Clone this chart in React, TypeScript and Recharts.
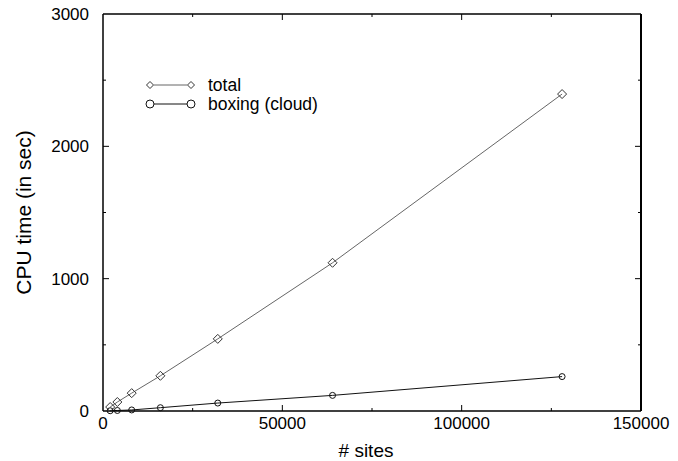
import React from 'react';
import {
  LineChart,
  Line,
  XAxis,
  YAxis,
  ReferenceLine,
  Legend,
  Label
} from 'recharts';

// values
const sites = [2000, 4000, 8000, 16000, 32000, 64000, 128000];
const totalTime = [30, 68, 135, 266, 545, 1120, 2395];
const boxingTime = [2, 4, 8, 25, 60, 118, 260];

const xTicks = [0, 25000, 50000, 75000, 100000, 125000, 150000];
const yTicks = [0, 500, 1000, 1500, 2000, 2500, 3000];

const data = sites.map((s, i) => ({
  sites: s,
  total: totalTime[i],
  boxing: boxingTime[i]
}));

const W = 678;
const H = 461;
const MARGIN = { top: 14, right: 37, left: 0, bottom: 0 };
const TOP_Y = MARGIN.top;
const RIGHT_X = W - MARGIN.right;
const FONT = '"Liberation Sans", Arial, Helvetica, sans-serif';

const X_MARGIN = 6;
const Y_MARGIN = 14;

const XTick = ({ x, y, payload }: any) => {
  const v = payload.value;
  const major = v % 50000 === 0;
  const len = major ? 6 : 3;
  const axisY = y - X_MARGIN;
  const edge = v === 0 || v === 150000;
  return (
    <g>
      {!edge && <line x1={x} x2={x} y1={axisY} y2={axisY - len} stroke="#000" />}
      {!edge && <line x1={x} x2={x} y1={TOP_Y} y2={TOP_Y + len} stroke="#000" />}
      {major && (
        <text x={x} y={y} dy="0.71em" textAnchor="middle" fontSize={17} fill="#000" fontFamily={FONT}>
          {v}
        </text>
      )}
    </g>
  );
};

const YTick = ({ x, y, payload }: any) => {
  const v = payload.value;
  const major = v % 1000 === 0;
  const len = major ? 6 : 3;
  const axisX = x + Y_MARGIN;
  const edge = v === 0 || v === 3000;
  return (
    <g>
      {!edge && <line x1={axisX} x2={axisX + len} y1={y} y2={y} stroke="#000" />}
      {!edge && <line x1={RIGHT_X} x2={RIGHT_X - len} y1={y} y2={y} stroke="#000" />}
      {major && (
        <text x={x} y={y} dy="0.355em" textAnchor="end" fontSize={17} fill="#000" fontFamily={FONT}>
          {v}
        </text>
      )}
    </g>
  );
};

const Diamond = ({ cx, cy, stroke, size = 4.5 }: any) => {
  if (cx == null || cy == null) return <g />;
  const d = size;
  return (
    <polygon
      points={`${cx},${cy - d} ${cx + d},${cy} ${cx},${cy + d} ${cx - d},${cy}`}
      fill="none"
      stroke={stroke}
      strokeWidth={1}
    />
  );
};

const Circle = ({ cx, cy, stroke, r = 5.5 }: any) => {
  if (cx == null || cy == null) return <g />;
  return <circle cx={cx} cy={cy} r={r} fill="none" stroke={stroke} strokeWidth={1} />;
};

const CustomLegend = () => (
  <svg width={200} height={44}>
    <line x1={14} x2={47} y1={11} y2={11} stroke="#666" />
    <Diamond cx={10} cy={11} stroke="#333" size={3.5} />
    <Diamond cx={51} cy={11} stroke="#333" size={3.5} />
    <text x={68} y={11} dy="0.355em" fontSize={17.5} fontFamily={FONT} fill="#000">total</text>
    <line x1={14} x2={47} y1={30} y2={30} stroke="#111" />
    <Circle cx={10} cy={30} stroke="#111" r={4} />
    <Circle cx={51} cy={30} stroke="#111" r={4} />
    <text x={68} y={30} dy="0.355em" fontSize={17.5} fontFamily={FONT} fill="#000">boxing (cloud)</text>
  </svg>
);

export default function App() {
  return (
    <div style={{ position: 'absolute', left: 0, top: 0, width: W, height: H, background: '#fff' }}>
      <LineChart width={W} height={H} data={data} margin={MARGIN}>
        <XAxis
          dataKey="sites"
          type="number"
          domain={[0, 150000]}
          ticks={xTicks}
          interval={0}
          tickSize={0}
          tickMargin={X_MARGIN}
          tickLine={false}
          tick={<XTick />}
          axisLine={{ stroke: '#000', strokeWidth: 1.5 }}
          height={50}
        >
          <Label value="# sites" position="insideBottom" offset={4} dx={-6} fontSize={19} fill="#000" fontFamily={FONT} />
        </XAxis>
        <YAxis
          type="number"
          domain={[0, 3000]}
          ticks={yTicks}
          interval={0}
          tickSize={0}
          tickMargin={Y_MARGIN}
          tickLine={false}
          tick={<YTick />}
          axisLine={{ stroke: '#000', strokeWidth: 1.5 }}
          width={103}
        >
          <Label value="CPU time (in sec)" angle={-90} position="insideLeft" offset={24} fontSize={21} fill="#000" fontFamily={FONT} style={{ textAnchor: 'middle' }} />
        </YAxis>
        <ReferenceLine y={3000} stroke="#000" strokeWidth={1.5} />
        <ReferenceLine x={150000} stroke="#000" strokeWidth={2} />
        <Legend
          layout="horizontal"
          verticalAlign="middle"
          align="center"
          content={<CustomLegend />}
          wrapperStyle={{ top: 74, left: 140, width: 200, height: 44 }}
        />
        <Line
          dataKey="total"
          stroke="#666"
          strokeWidth={1}
          dot={<Diamond stroke="#333" />}
          activeDot={false}
          isAnimationActive={false}
        />
        <Line
          dataKey="boxing"
          stroke="#111"
          strokeWidth={1}
          dot={<Circle stroke="#111" />}
          activeDot={false}
          isAnimationActive={false}
        />
      </LineChart>
    </div>
  );
}
